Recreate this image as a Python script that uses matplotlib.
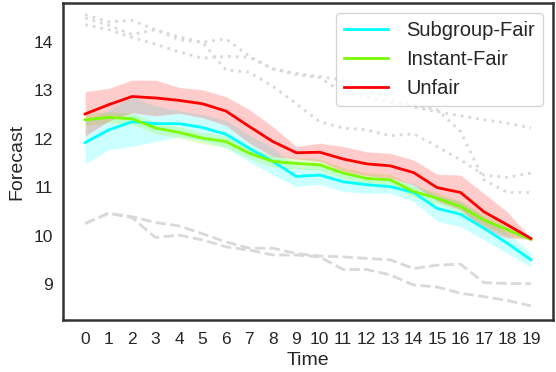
import numpy as np
import matplotlib
matplotlib.use("Agg")
import matplotlib.pyplot as plt

plt.rcParams['font.family'] = ['Liberation Sans', 'DejaVu Sans']

# time steps
time = list(range(20))

# forecasts of the three models
subgroup_fair = [11.92, 12.18, 12.35, 12.31, 12.31, 12.23, 12.09, 11.80, 11.53, 11.22,
                 11.25, 11.11, 11.05, 11.01, 10.89, 10.56, 10.44, 10.15, 9.84, 9.50]
instant_fair = [12.39, 12.44, 12.41, 12.22, 12.13, 12.01, 11.94, 11.70, 11.53, 11.49,
                11.46, 11.29, 11.18, 11.15, 10.91, 10.77, 10.60, 10.32, 10.12, 9.92]
unfair = [12.51, 12.70, 12.87, 12.84, 12.79, 12.72, 12.57, 12.25, 11.94, 11.71,
          11.72, 11.58, 11.48, 11.44, 11.30, 10.99, 10.89, 10.49, 10.22, 9.94]

# uncertainty bands
subgroup_lo = [11.48, 11.77, 11.84, 11.94, 12.04, 11.96, 11.80, 11.52, 11.25, 11.01,
               11.05, 10.91, 10.87, 10.87, 10.70, 10.29, 10.18, 9.91, 9.63, 9.35]
subgroup_hi = [12.36, 12.59, 12.86, 12.68, 12.58, 12.50, 12.38, 12.08, 11.81, 11.43,
               11.45, 11.31, 11.23, 11.15, 11.08, 10.83, 10.70, 10.39, 10.05, 9.65]
instant_lo = [12.27, 12.32, 12.29, 12.10, 12.01, 11.89, 11.82, 11.58, 11.41, 11.37,
              11.34, 11.17, 11.06, 11.03, 10.79, 10.65, 10.48, 10.20, 10.00, 9.90]
instant_hi = [12.51, 12.56, 12.53, 12.34, 12.25, 12.13, 12.06, 11.82, 11.65, 11.61,
              11.58, 11.41, 11.30, 11.27, 11.03, 10.89, 10.72, 10.44, 10.24, 9.94]
unfair_lo = [12.05, 12.36, 12.53, 12.47, 12.52, 12.43, 12.27, 11.90, 11.63, 11.58,
             11.53, 11.32, 11.23, 11.18, 11.04, 10.71, 10.53, 10.11, 9.95, 9.93]
unfair_hi = [12.97, 13.04, 13.21, 13.21, 13.06, 13.01, 12.87, 12.60, 12.25, 11.84,
             11.91, 11.84, 11.73, 11.70, 11.56, 11.27, 11.25, 10.87, 10.49, 9.95]

# grey background series (dotted = upper group, dashed = lower group)
dotted_1 = [14.56, 14.41, 14.44, 14.25, 14.04, 13.99, 14.06, 13.70, 13.44, 13.35,
            13.28, 13.21, 13.00, 12.82, 12.65, 12.56, 12.47, 12.39, 12.32, 12.22]
dotted_2 = [14.35, 14.25, 14.09, 13.95, 13.79, 13.66, 13.70, 13.68, 13.44, 13.32,
            13.26, 12.95, 12.85, 12.75, 12.70, 12.60, 12.15, 11.15, 10.89, 10.89]
dotted_3 = [14.49, 14.34, 14.15, 14.25, 14.10, 13.99, 13.42, 13.37, 13.08, 12.72,
            12.35, 12.22, 12.18, 12.06, 12.10, 11.84, 11.56, 11.25, 11.20, 11.29]
dashed_1 = [10.25, 10.46, 10.39, 10.27, 10.20, 10.04, 9.87, 9.74, 9.74, 9.63,
            9.58, 9.56, 9.53, 9.50, 9.32, 9.39, 9.41, 9.03, 9.01, 9.01]
dashed_2 = [10.25, 10.46, 10.37, 9.96, 10.01, 9.91, 9.77, 9.70, 9.60, 9.60,
            9.56, 9.30, 9.30, 9.19, 8.98, 8.94, 8.81, 8.74, 8.66, 8.55]

fig = plt.figure(figsize=(5.56, 3.72), dpi=100)
ax = fig.add_axes([0.113, 0.140, 0.882, 0.852])

grey = '#d9d9d9'
for s in [dotted_1, dotted_2, dotted_3]:
    ax.plot(time, s, color=grey, lw=2, dashes=(1, 1.8))
for s in [dashed_1, dashed_2]:
    ax.plot(time, s, '--', color=grey, lw=2)

series = [
    ("Subgroup-Fair", subgroup_fair, subgroup_lo, subgroup_hi, '#00ffff'),
    ("Instant-Fair", instant_fair, instant_lo, instant_hi, '#7cfc00'),
    ("Unfair", unfair, unfair_lo, unfair_hi, '#ff0000'),
]
for name, y, lo, hi, c in series:
    ax.fill_between(time, lo, hi, color=c, alpha=0.2, edgecolor='white', lw=0.8)
for name, y, lo, hi, c in series:
    ax.plot(time, y, color=c, lw=2, label=name)

ax.set_xlim(-0.95, 19.95)
ax.set_ylim(8.26, 14.8)
ax.set_xticks(time)
ax.set_yticks([9, 10, 11, 12, 13, 14])
ax.tick_params(length=0, labelsize=12.5, colors='#262626')
ax.tick_params(axis='x', pad=9)
ax.tick_params(axis='y', pad=7)
for sp in ax.spines.values():
    sp.set_color('#333333')
    sp.set_linewidth(1.8)
ax.set_xlabel("Time", fontsize=14, color='#262626', labelpad=3)
ax.set_ylabel("Forecast", fontsize=14, color='#262626', labelpad=6)

leg = ax.legend(loc='upper right', fontsize=14.5, handlelength=2.2, handletextpad=0.9,
                labelspacing=0.5, borderaxespad=0.5, framealpha=0.8)
for t in leg.get_texts():
    t.set_color('#262626')

fig.savefig("out.png", dpi=100)
